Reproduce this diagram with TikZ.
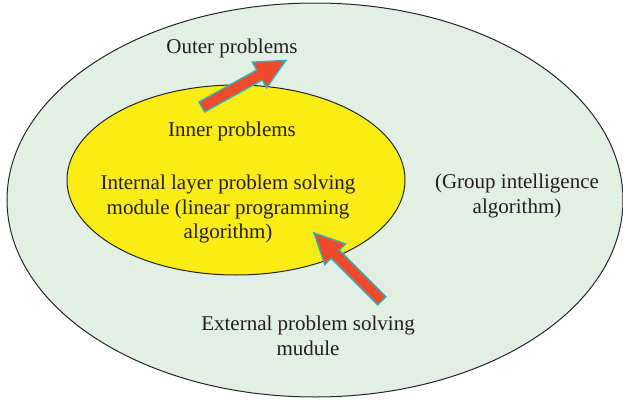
\documentclass[tikz,border=0pt]{standalone}
\usepackage{fontspec}
\setmainfont{Liberation Serif}
\usetikzlibrary{shapes.geometric,shapes.arrows}
\definecolor{outergreen}{RGB}{226,239,229}
\definecolor{inneryellow}{RGB}{252,236,22}
\definecolor{arrowred}{RGB}{238,74,43}
\definecolor{arrowteal}{RGB}{48,178,176}
\definecolor{textgray}{RGB}{35,31,32}
\begin{document}
\begin{tikzpicture}[x=0.5pt,y=0.5pt]
\tikzstyle{every node}+=[inner sep=0pt, text=textgray, font=\fontsize{10.5}{12.25}\selectfont]
\tikzstyle{zone}=[ellipse, draw=black!85, line width=0.5pt]
\tikzstyle{txt}=[align=center]
\tikzstyle{blockarrow}=[single arrow, fill=arrowred, draw=arrowteal, line width=0.7pt, inner ysep=2.5pt, single arrow head extend=4.5pt, single arrow tip angle=52, minimum height=48pt]
\useasboundingbox (0,0) rectangle (623,-402);
\node[zone, fill=outergreen, minimum width=308pt, minimum height=197pt] (outer) at (315,-200) {};
\node[zone, fill=inneryellow, minimum width=169pt, minimum height=95pt] (inner) at (236,-180) {};
\node[txt] (outerprob) at (232,-48) {Outer problems};
\node[txt] (innerprob) at (232,-131) {Inner problems};
\node[txt] (internal) at (228,-209) {Internal layer problem solving\\module (linear programming\\algorithm)};
\node[txt] (group) at (517,-196) {(Group intelligence\\algorithm)};
\node[txt] (external) at (308,-336) {External problem solving\\mudule};
\node[blockarrow, rotate=29] (uparrow) at (238.75,-86.5) {};
\node[blockarrow, rotate=135] (inarrow) at (352,-271) {};
\end{tikzpicture}
\end{document}
